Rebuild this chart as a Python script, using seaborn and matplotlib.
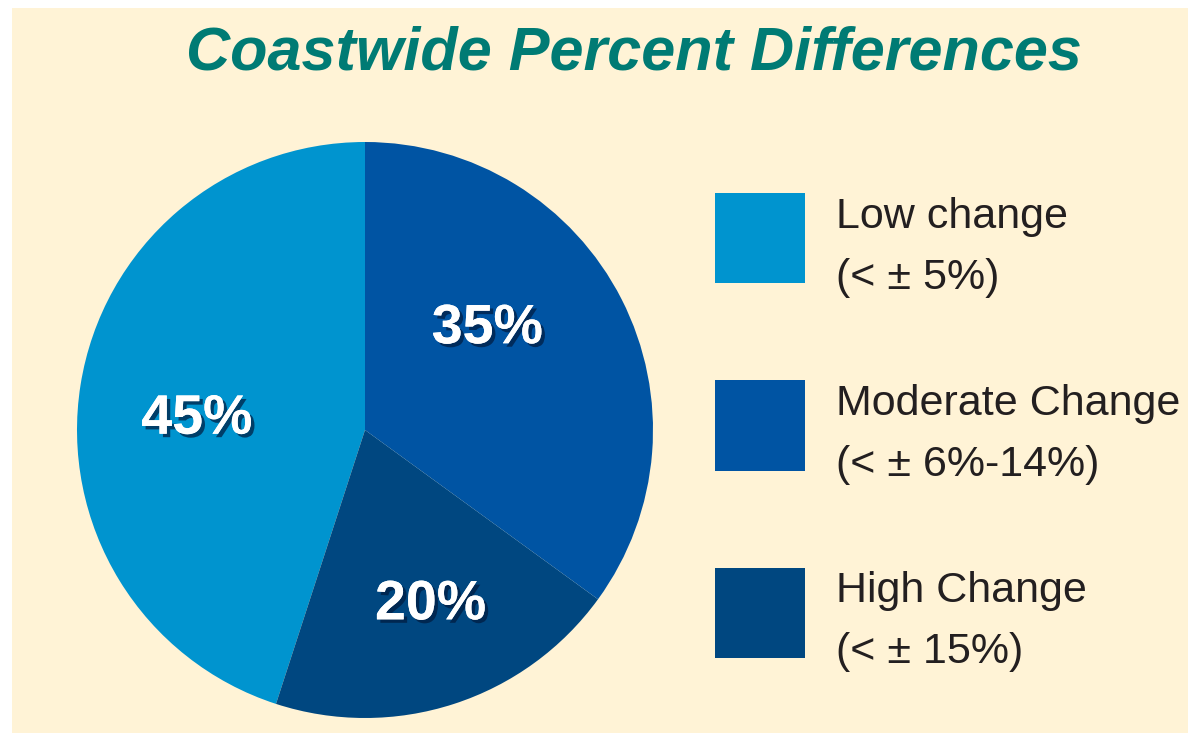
import matplotlib
matplotlib.use("Agg")
import numpy as np
import matplotlib.pyplot as plt
import matplotlib.patheffects as pe
from matplotlib.patches import Rectangle
from matplotlib.legend_handler import HandlerPatch
import seaborn as sns

categories = ["Low change", "High Change", "Moderate Change"]
ranges = ["(< \u00b1 5%)", "(< \u00b1 15%)", "(< \u00b1 6%-14%)"]
shares = [45, 20, 35]
colors = ["#0094cf", "#004780", "#0054a3"]
legend_order = [0, 2, 1]
# where the percentage labels sit (degrees, fraction of radius)
label_angle = [176.5, -69.5, 39.5]
label_radius = [0.585, 0.65, 0.55]

sns.set_theme(style="white")
plt.rcParams["font.family"] = ["Liberation Sans", "DejaVu Sans"]

W, H = 1188, 733
fig = plt.figure(figsize=(W / 100, H / 100), dpi=100)
fig.patch.set_facecolor("white")
fig.patches.append(Rectangle((12 / W, 0), 1 - 12 / W, 1 - 8 / H,
                             transform=fig.transFigure, facecolor="#fff3d6",
                             edgecolor="none", zorder=-10))

# pie centre ~ (365, 430) px, radius ~ 288 px
cx, cy, r = 365, 430, 288
ax = fig.add_axes([(cx - r) / W, (H - cy - r) / H, 2 * r / W, 2 * r / H])
wedges, _, autotexts = ax.pie(shares, colors=colors, startangle=90, counterclock=True,
                              autopct="%d%%", pctdistance=0.6,
                              wedgeprops=dict(linewidth=0))
ax.set_xlim(-1, 1)
ax.set_ylim(-1, 1)
ax.set_aspect("auto")
ax.axis("off")

shadow = [pe.withSimplePatchShadow(offset=(2.5, -2.5), shadow_rgbFace="#001a3d", alpha=0.7),
          pe.Normal()]
for t, a, rr in zip(autotexts, label_angle, label_radius):
    t.set_position((rr * np.cos(np.radians(a)), rr * np.sin(np.radians(a))))
    t.set_color("white")
    t.set_fontsize(40)
    t.set_fontweight("bold")
    t.set_path_effects(shadow)

fig.text(634 / W, 1 - 70 / H, "Coastwide Percent Differences", ha="center", va="baseline",
         fontsize=44, fontweight="bold", fontstyle="italic", color="#007b74")


def square(legend, orig_handle, xdescent, ydescent, width, height, fontsize):
    # lift the swatch a bit so the two text lines straddle it like the original
    return Rectangle((-xdescent, -ydescent + 8.6), width, height)


fs = 31
handles = [wedges[i] for i in legend_order]
labels = [categories[i] + "\n" + ranges[i] for i in legend_order]
leg = fig.legend(handles, labels, loc="upper left", bbox_to_anchor=(715 / W, 1 - 197 / H),
                 frameon=False, fontsize=fs, handlelength=2.1, handleheight=2.85,
                 handletextpad=0.7, labelspacing=2.0, borderpad=0, borderaxespad=0,
                 handler_map={matplotlib.patches.Wedge: HandlerPatch(patch_func=square)})
for t in leg.get_texts():
    t.set_color("#231f20")
    t.set_linespacing(1.68)

fig.savefig("out.png", dpi=100)
